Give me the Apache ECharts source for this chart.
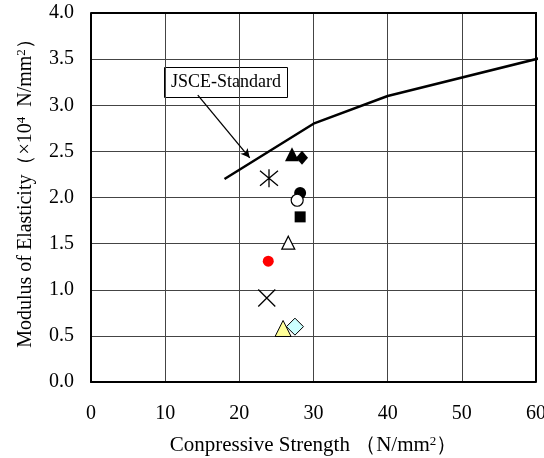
<!DOCTYPE html>
<html>
<head>
<meta charset="utf-8">
<script src="https://cdn.jsdelivr.net/npm/echarts@6/dist/echarts.min.js"></script>
<style>
html, body { margin: 0; padding: 0; background: #fff; }
#main { width: 544px; height: 458px; }
</style>
</head>
<body>
<div id="main"></div>
<script>
// JSCE standard curve
var jsceStrength = [18, 30, 40, 61];
var jsceModulus  = [2.2, 2.8, 3.1, 3.52];

// test specimens (one marker each)
var specimenStrength = [24.0, 27.1, 28.45, 28.2, 27.8, 28.2, 26.6, 23.9, 23.7, 27.5, 25.9];
var specimenModulus  = [2.21, 2.47, 2.43, 2.05, 1.97, 1.79, 1.51, 1.31, 0.91, 0.60, 0.58];

var xTicks = [0, 10, 20, 30, 40, 50, 60];
var yTicks = [0, 0.5, 1.0, 1.5, 2.0, 2.5, 3.0, 3.5, 4.0];

var serifFont = '"Liberation Serif", "DejaVu Serif", serif';

var ASTERISK = 'path://M0,0 L10,10 M10,0 L0,10 M5,-1 L5,11';
var CROSS = 'path://M0,0 L10,10 M10,0 L0,10';

// marker styles, same order as the specimen arrays
var markerStyles = [
    {symbol: ASTERISK, size: 18, color: 'none', border: '#000', bw: 1.3},
    {symbol: 'triangle', size: 14, color: '#000', border: '#000', bw: 0},
    {symbol: 'diamond', size: [12, 14], color: '#000', border: '#000', bw: 0},
    {symbol: 'circle', size: 12, color: '#000', border: '#000', bw: 0},
    {symbol: 'circle', size: 12, color: '#fff', border: '#000', bw: 1.2},
    {symbol: 'rect', size: 11, color: '#000', border: '#000', bw: 0},
    {symbol: 'triangle', size: 13, color: '#fff', border: '#000', bw: 1.2},
    {symbol: 'circle', size: 11, color: '#ff0000', border: '#ff0000', bw: 0},
    {symbol: CROSS, size: 17, color: 'none', border: '#000', bw: 1.3},
    {symbol: 'diamond', size: 17, color: '#ccffff', border: '#000', bw: 1},
    {symbol: 'triangle', size: 16, color: '#ffff99', border: '#000', bw: 1}
];

var myChart = echarts.init(document.getElementById('main'));

var series = [];
series.push({
    name: 'JSCE-Standard',
    type: 'line',
    data: jsceStrength.map(function (x, i) { return [x, jsceModulus[i]]; }),
    symbol: 'none',
    clip: false,
    lineStyle: {color: '#000', width: 2.5},
    z: 3,
    markLine: {
        silent: true,
        symbol: ['none', 'arrow'],
        symbolSize: [7, 9],
        label: {show: false},
        lineStyle: {color: '#000', width: 1.3, type: 'solid'},
        data: [[{coord: [14.4, 3.11]}, {coord: [21.4, 2.43]}]]
    }
});

for (var i = 0; i < specimenStrength.length; i++) {
    var s = markerStyles[i];
    series.push({
        type: 'scatter',
        data: [[specimenStrength[i], specimenModulus[i]]],
        symbol: s.symbol,
        symbolSize: s.size,
        clip: false,
        itemStyle: {color: s.color, borderColor: s.border, borderWidth: s.bw, opacity: 1},
        z: 4
    });
}

var nameRich = {
    sup: {fontFamily: serifFont, fontSize: 13, color: '#000', verticalAlign: 'top', padding: [0, 0, 8, 0]}
};

var option = {
    animation: false,
    backgroundColor: '#fff',
    grid: {left: 91, right: 8, top: 13, bottom: 76, outerBoundsMode: 'none', containLabel: false},
    xAxis: {
        type: 'value',
        min: 0, max: 60, interval: 10,
        name: 'Conpressive Strength （N/mm{sup|2}）',
        nameLocation: 'middle',
        nameGap: 53,
        nameTextStyle: {fontFamily: serifFont, fontSize: 21, color: '#000', rich: nameRich},
        axisLine: {show: true, lineStyle: {color: '#000', width: 2}},
        axisTick: {show: false},
        axisLabel: {
            margin: 22, fontFamily: serifFont, fontSize: 20, color: '#000',
            formatter: function (v) { return xTicks.indexOf(v) >= 0 ? String(v) : ''; }
        },
        splitLine: {show: true, lineStyle: {color: '#444', width: 1}}
    },
    yAxis: {
        type: 'value',
        min: 0, max: 4, interval: 0.5,
        name: 'Modulus of Elasticity（×10{sup|4}  N/mm{sup|2}）',
        nameLocation: 'middle',
        nameGap: 55,
        nameTextStyle: {fontFamily: serifFont, fontSize: 20, color: '#000', rich: nameRich, padding: [0, 0, 0, 18]},
        axisLine: {show: true, lineStyle: {color: '#000', width: 2}},
        axisTick: {show: false},
        axisLabel: {
            margin: 17, fontFamily: serifFont, fontSize: 20, color: '#000',
            formatter: function (v) {
                for (var i = 0; i < yTicks.length; i++) {
                    if (Math.abs(yTicks[i] - v) < 1e-6) return yTicks[i].toFixed(1);
                }
                return '';
            }
        },
        splitLine: {show: true, lineStyle: {color: '#444', width: 1}}
    },
    graphic: [{
        type: 'group',
        left: 164, top: 67,
        z: 10,
        children: [{
            type: 'rect',
            shape: {x: 0, y: 0, width: 123, height: 30},
            style: {fill: '#fff', stroke: '#000', lineWidth: 1}
        }, {
            type: 'text',
            x: 61.5, y: 15,
            style: {
                text: 'JSCE-Standard',
                fontFamily: serifFont, fontSize: 18,
                fill: '#000', align: 'center', verticalAlign: 'middle'
            }
        }]
    }, {
        // top and right border of the plot box
        type: 'polyline',
        shape: {points: [[91, 13], [536, 13], [536, 382]]},
        style: {stroke: '#000', lineWidth: 2, fill: null},
        z: 5
    }],
    series: series
};
myChart.setOption(option);
</script>
</body>
</html>
